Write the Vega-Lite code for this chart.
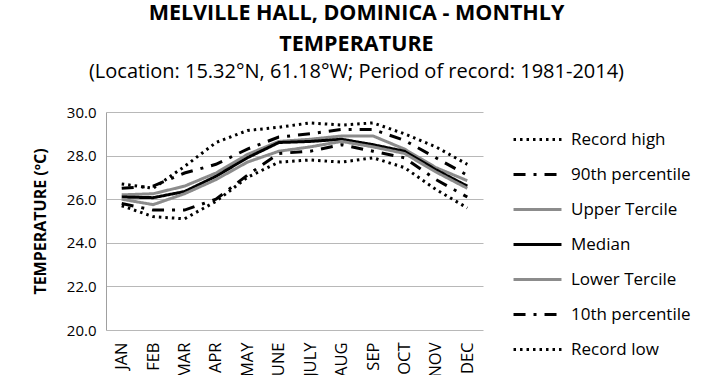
{
  "$schema": "https://vega.github.io/schema/vega-lite/v6.json",
  "autosize": "none",
  "width": 377,
  "height": 218,
  "padding": {"left": 106, "top": 112, "right": 227, "bottom": 45},
  "background": "white",
  "config": {
    "font": "Open Sans",
    "view": {"stroke": null}
  },
  "title": {
    "text": ["MELVILLE HALL, DOMINICA - MONTHLY", "TEMPERATURE"],
    "subtitle": "(Location: 15.32°N, 61.18°W; Period of record: 1981-2014)",
    "anchor": "middle",
    "dx": 62,
    "font": "Open Sans",
    "fontSize": 21.5,
    "fontWeight": "bold",
    "lineHeight": 31,
    "color": "black",
    "subtitleFont": "Open Sans",
    "subtitleFontSize": 20,
    "subtitleColor": "black",
    "subtitlePadding": 7,
    "offset": 23
  },
  "data": {
    "values": [
      {"month": "JAN", "series": "Record high", "value": 26.7},
      {"month": "FEB", "series": "Record high", "value": 26.5},
      {"month": "MAR", "series": "Record high", "value": 27.5},
      {"month": "APR", "series": "Record high", "value": 28.6},
      {"month": "MAY", "series": "Record high", "value": 29.15},
      {"month": "JUNE", "series": "Record high", "value": 29.3},
      {"month": "JULY", "series": "Record high", "value": 29.5},
      {"month": "AUG", "series": "Record high", "value": 29.4},
      {"month": "SEP", "series": "Record high", "value": 29.5},
      {"month": "OCT", "series": "Record high", "value": 29.0},
      {"month": "NOV", "series": "Record high", "value": 28.4},
      {"month": "DEC", "series": "Record high", "value": 27.6},
      {"month": "JAN", "series": "90th percentile", "value": 26.5},
      {"month": "FEB", "series": "90th percentile", "value": 26.6},
      {"month": "MAR", "series": "90th percentile", "value": 27.2},
      {"month": "APR", "series": "90th percentile", "value": 27.6},
      {"month": "MAY", "series": "90th percentile", "value": 28.3},
      {"month": "JUNE", "series": "90th percentile", "value": 28.85},
      {"month": "JULY", "series": "90th percentile", "value": 29.0},
      {"month": "AUG", "series": "90th percentile", "value": 29.2},
      {"month": "SEP", "series": "90th percentile", "value": 29.2},
      {"month": "OCT", "series": "90th percentile", "value": 28.7},
      {"month": "NOV", "series": "90th percentile", "value": 27.9},
      {"month": "DEC", "series": "90th percentile", "value": 27.1},
      {"month": "JAN", "series": "Upper Tercile", "value": 26.2},
      {"month": "FEB", "series": "Upper Tercile", "value": 26.25},
      {"month": "MAR", "series": "Upper Tercile", "value": 26.6},
      {"month": "APR", "series": "Upper Tercile", "value": 27.2},
      {"month": "MAY", "series": "Upper Tercile", "value": 28.05},
      {"month": "JUNE", "series": "Upper Tercile", "value": 28.65},
      {"month": "JULY", "series": "Upper Tercile", "value": 28.75},
      {"month": "AUG", "series": "Upper Tercile", "value": 28.9},
      {"month": "SEP", "series": "Upper Tercile", "value": 28.9},
      {"month": "OCT", "series": "Upper Tercile", "value": 28.3},
      {"month": "NOV", "series": "Upper Tercile", "value": 27.45},
      {"month": "DEC", "series": "Upper Tercile", "value": 26.85},
      {"month": "JAN", "series": "Median", "value": 26.1},
      {"month": "FEB", "series": "Median", "value": 26.07},
      {"month": "MAR", "series": "Median", "value": 26.35},
      {"month": "APR", "series": "Median", "value": 27.05},
      {"month": "MAY", "series": "Median", "value": 27.9},
      {"month": "JUNE", "series": "Median", "value": 28.6},
      {"month": "JULY", "series": "Median", "value": 28.65},
      {"month": "AUG", "series": "Median", "value": 28.75},
      {"month": "SEP", "series": "Median", "value": 28.5},
      {"month": "OCT", "series": "Median", "value": 28.2},
      {"month": "NOV", "series": "Median", "value": 27.35},
      {"month": "DEC", "series": "Median", "value": 26.6},
      {"month": "JAN", "series": "Lower Tercile", "value": 26.0},
      {"month": "FEB", "series": "Lower Tercile", "value": 25.75},
      {"month": "MAR", "series": "Lower Tercile", "value": 26.25},
      {"month": "APR", "series": "Lower Tercile", "value": 26.9},
      {"month": "MAY", "series": "Lower Tercile", "value": 27.7},
      {"month": "JUNE", "series": "Lower Tercile", "value": 28.2},
      {"month": "JULY", "series": "Lower Tercile", "value": 28.4},
      {"month": "AUG", "series": "Lower Tercile", "value": 28.65},
      {"month": "SEP", "series": "Lower Tercile", "value": 28.4},
      {"month": "OCT", "series": "Lower Tercile", "value": 28.1},
      {"month": "NOV", "series": "Lower Tercile", "value": 27.25},
      {"month": "DEC", "series": "Lower Tercile", "value": 26.5},
      {"month": "JAN", "series": "10th percentile", "value": 25.8},
      {"month": "FEB", "series": "10th percentile", "value": 25.5},
      {"month": "MAR", "series": "10th percentile", "value": 25.5},
      {"month": "APR", "series": "10th percentile", "value": 26.0},
      {"month": "MAY", "series": "10th percentile", "value": 27.1},
      {"month": "JUNE", "series": "10th percentile", "value": 28.1},
      {"month": "JULY", "series": "10th percentile", "value": 28.2},
      {"month": "AUG", "series": "10th percentile", "value": 28.5},
      {"month": "SEP", "series": "10th percentile", "value": 28.2},
      {"month": "OCT", "series": "10th percentile", "value": 27.9},
      {"month": "NOV", "series": "10th percentile", "value": 26.9},
      {"month": "DEC", "series": "10th percentile", "value": 26.1},
      {"month": "JAN", "series": "Record low", "value": 25.7},
      {"month": "FEB", "series": "Record low", "value": 25.2},
      {"month": "MAR", "series": "Record low", "value": 25.1},
      {"month": "APR", "series": "Record low", "value": 25.9},
      {"month": "MAY", "series": "Record low", "value": 27.0},
      {"month": "JUNE", "series": "Record low", "value": 27.7},
      {"month": "JULY", "series": "Record low", "value": 27.8},
      {"month": "AUG", "series": "Record low", "value": 27.7},
      {"month": "SEP", "series": "Record low", "value": 27.9},
      {"month": "OCT", "series": "Record low", "value": 27.45},
      {"month": "NOV", "series": "Record low", "value": 26.45},
      {"month": "DEC", "series": "Record low", "value": 25.6}
    ]
  },
  "mark": {"type": "line", "strokeWidth": 3},
  "encoding": {
    "x": {
      "field": "month",
      "type": "nominal",
      "sort": ["JAN", "FEB", "MAR", "APR", "MAY", "JUNE", "JULY", "AUG", "SEP", "OCT", "NOV", "DEC"],
      "scale": {"type": "point", "padding": 0.5},
      "axis": {
        "title": null,
        "labelAngle": -90,
        "labelAlign": "right",
        "labelBaseline": "middle",
        "labelFont": "Open Sans",
        "labelFontSize": 16.5,
        "labelColor": "black",
        "labelPadding": 12,
        "ticks": false,
        "domain": false,
        "grid": false
      }
    },
    "y": {
      "field": "value",
      "type": "quantitative",
      "scale": {"domain": [20, 30], "nice": false, "zero": false},
      "axis": {
        "title": "TEMPERATURE (ºC)",
        "titleFont": "Open Sans",
        "titleFontSize": 16,
        "titleFontWeight": "bold",
        "titleColor": "black",
        "titlePadding": 18,
        "values": [20, 22, 24, 26, 28, 30],
        "format": ".1f",
        "labelFont": "Open Sans",
        "labelFontSize": 15,
        "labelColor": "black",
        "labelPadding": 10,
        "ticks": false,
        "domainColor": "#a0a0a0",
        "gridColor": "#b8b8b8",
        "gridWidth": 1
      }
    },
    "color": {
      "field": "series",
      "type": "nominal",
      "scale": {
        "domain": ["Record high", "90th percentile", "Upper Tercile", "Median", "Lower Tercile", "10th percentile", "Record low"],
        "range": ["black", "black", "#8c8c8c", "black", "#8c8c8c", "black", "black"]
      },
      "legend": {
        "title": null,
        "orient": "none",
        "legendX": 406,
        "legendY": 2,
        "symbolType": "stroke",
        "symbolSize": 2300,
        "symbolStrokeWidth": 3,
        "labelFont": "Open Sans",
        "labelFontSize": 17,
        "labelColor": "black",
        "labelOffset": 8,
        "rowPadding": 1
      }
    },
    "strokeDash": {
      "field": "series",
      "type": "nominal",
      "scale": {
        "domain": ["Record high", "90th percentile", "Upper Tercile", "Median", "Lower Tercile", "10th percentile", "Record low"],
        "range": [[2.5, 4], [12, 8, 3, 8], [1, 0], [1, 0], [1, 0], [12, 8, 3, 8], [2.5, 4]]
      },
      "legend": {
        "title": null,
        "orient": "none",
        "legendX": 406,
        "legendY": 2,
        "symbolType": "stroke",
        "symbolSize": 2300,
        "symbolStrokeWidth": 3,
        "labelFont": "Open Sans",
        "labelFontSize": 17,
        "labelColor": "black",
        "labelOffset": 8,
        "rowPadding": 1
      }
    }
  }
}
